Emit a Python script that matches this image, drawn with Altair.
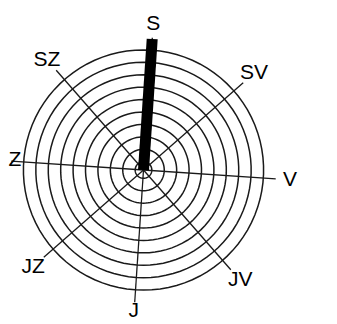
import altair as alt
import pandas as pd

# ---- data ----
directions = ["S", "SV", "V", "JV", "J", "JZ", "Z", "SZ"]
angles = [0, 45, 90, 135, 180, 225, 270, 315]
rings = [1, 2, 3, 4, 5, 6, 7, 8, 9, 10]
bar_direction = ["S"]
bar_angle = [0]
bar_value = [10.9]

SPOKE_LEN = 11.0      # spokes run a little past the outer ring
LABEL_POS = 12.15     # radial position of the direction labels
R0 = 0.33             # radial value that sits at the centre
ROT = 3.8             # the scanned figure is turned a few degrees clockwise

W, H = 321, 316
K = 12.42             # pixels per radial unit
CX, CY = 135.5, 162.0 # centre inside the plot area
XDOM = [-CX / K, (W - CX) / K]
YDOM = [-(H - CY) / K, CY / K]
XMIN_LABEL = XDOM[0] + 7.0 / K    # keep the labels inside the frame
YMIN_LABEL = YDOM[0] + 13.5 / K

xs = alt.Scale(domain=XDOM, nice=False, zero=False)
ys = alt.Scale(domain=YDOM, nice=False, zero=False)

dir_df = pd.DataFrame({"dir": directions, "ang": angles})
ring_df = pd.DataFrame({"ring": rings})
bar_df = pd.DataFrame({"dir": bar_direction, "ang": bar_angle, "val": bar_value})

theta = f"(datum.ang + {ROT}) * PI / 180"

rings_layer = (
    alt.Chart(ring_df)
    .transform_calculate(a="sequence(0, 364, 4)")
    .transform_flatten(["a"])
    .transform_calculate(
        x=f"(datum.ring - {R0}) * sin(datum.a * PI / 180)",
        y=f"(datum.ring - {R0}) * cos(datum.a * PI / 180)",
    )
    .mark_line(color="#1a1a1a", strokeWidth=1.5)
    .encode(
        x=alt.X("x:Q", scale=xs, axis=None),
        y=alt.Y("y:Q", scale=ys, axis=None),
        detail="ring:N",
        order="a:Q",
    )
)

spokes_layer = (
    alt.Chart(dir_df)
    .transform_calculate(
        x0="0",
        y0="0",
        xe=f"({SPOKE_LEN} - {R0}) * sin({theta})",
        ye=f"({SPOKE_LEN} - {R0}) * cos({theta})",
    )
    .mark_rule(color="#1a1a1a", strokeWidth=1.3)
    .encode(
        x=alt.X("x0:Q", scale=xs, axis=None),
        y=alt.Y("y0:Q", scale=ys, axis=None),
        x2="xe:Q",
        y2="ye:Q",
    )
)

bar_layer = (
    alt.Chart(bar_df)
    .transform_calculate(
        x0="0",
        y0="0",
        xe=f"(datum.val - {R0}) * sin({theta})",
        ye=f"(datum.val - {R0}) * cos({theta})",
    )
    .mark_rule(color="black", strokeWidth=11, strokeCap="butt")
    .encode(
        x=alt.X("x0:Q", scale=xs, axis=None),
        y=alt.Y("y0:Q", scale=ys, axis=None),
        x2="xe:Q",
        y2="ye:Q",
    )
)

labels_layer = (
    alt.Chart(dir_df)
    .transform_calculate(
        xl=f"max({XMIN_LABEL}, ({LABEL_POS} - {R0}) * sin({theta}))",
        yl=f"max({YMIN_LABEL}, ({LABEL_POS} - {R0}) * cos({theta}))",
    )
    .mark_text(font="Liberation Sans", fontSize=21, color="black",
               align="center", baseline="middle")
    .encode(
        x=alt.X("xl:Q", scale=xs, axis=None),
        y=alt.Y("yl:Q", scale=ys, axis=None),
        text="dir:N",
    )
)

chart = (
    alt.layer(rings_layer, spokes_layer, bar_layer, labels_layer)
    .properties(width=W, height=H, padding=0, autosize="none", background="white")
    .configure_view(stroke=None)
)

chart.save("out.html", embed_options={"renderer": "svg", "actions": False})
